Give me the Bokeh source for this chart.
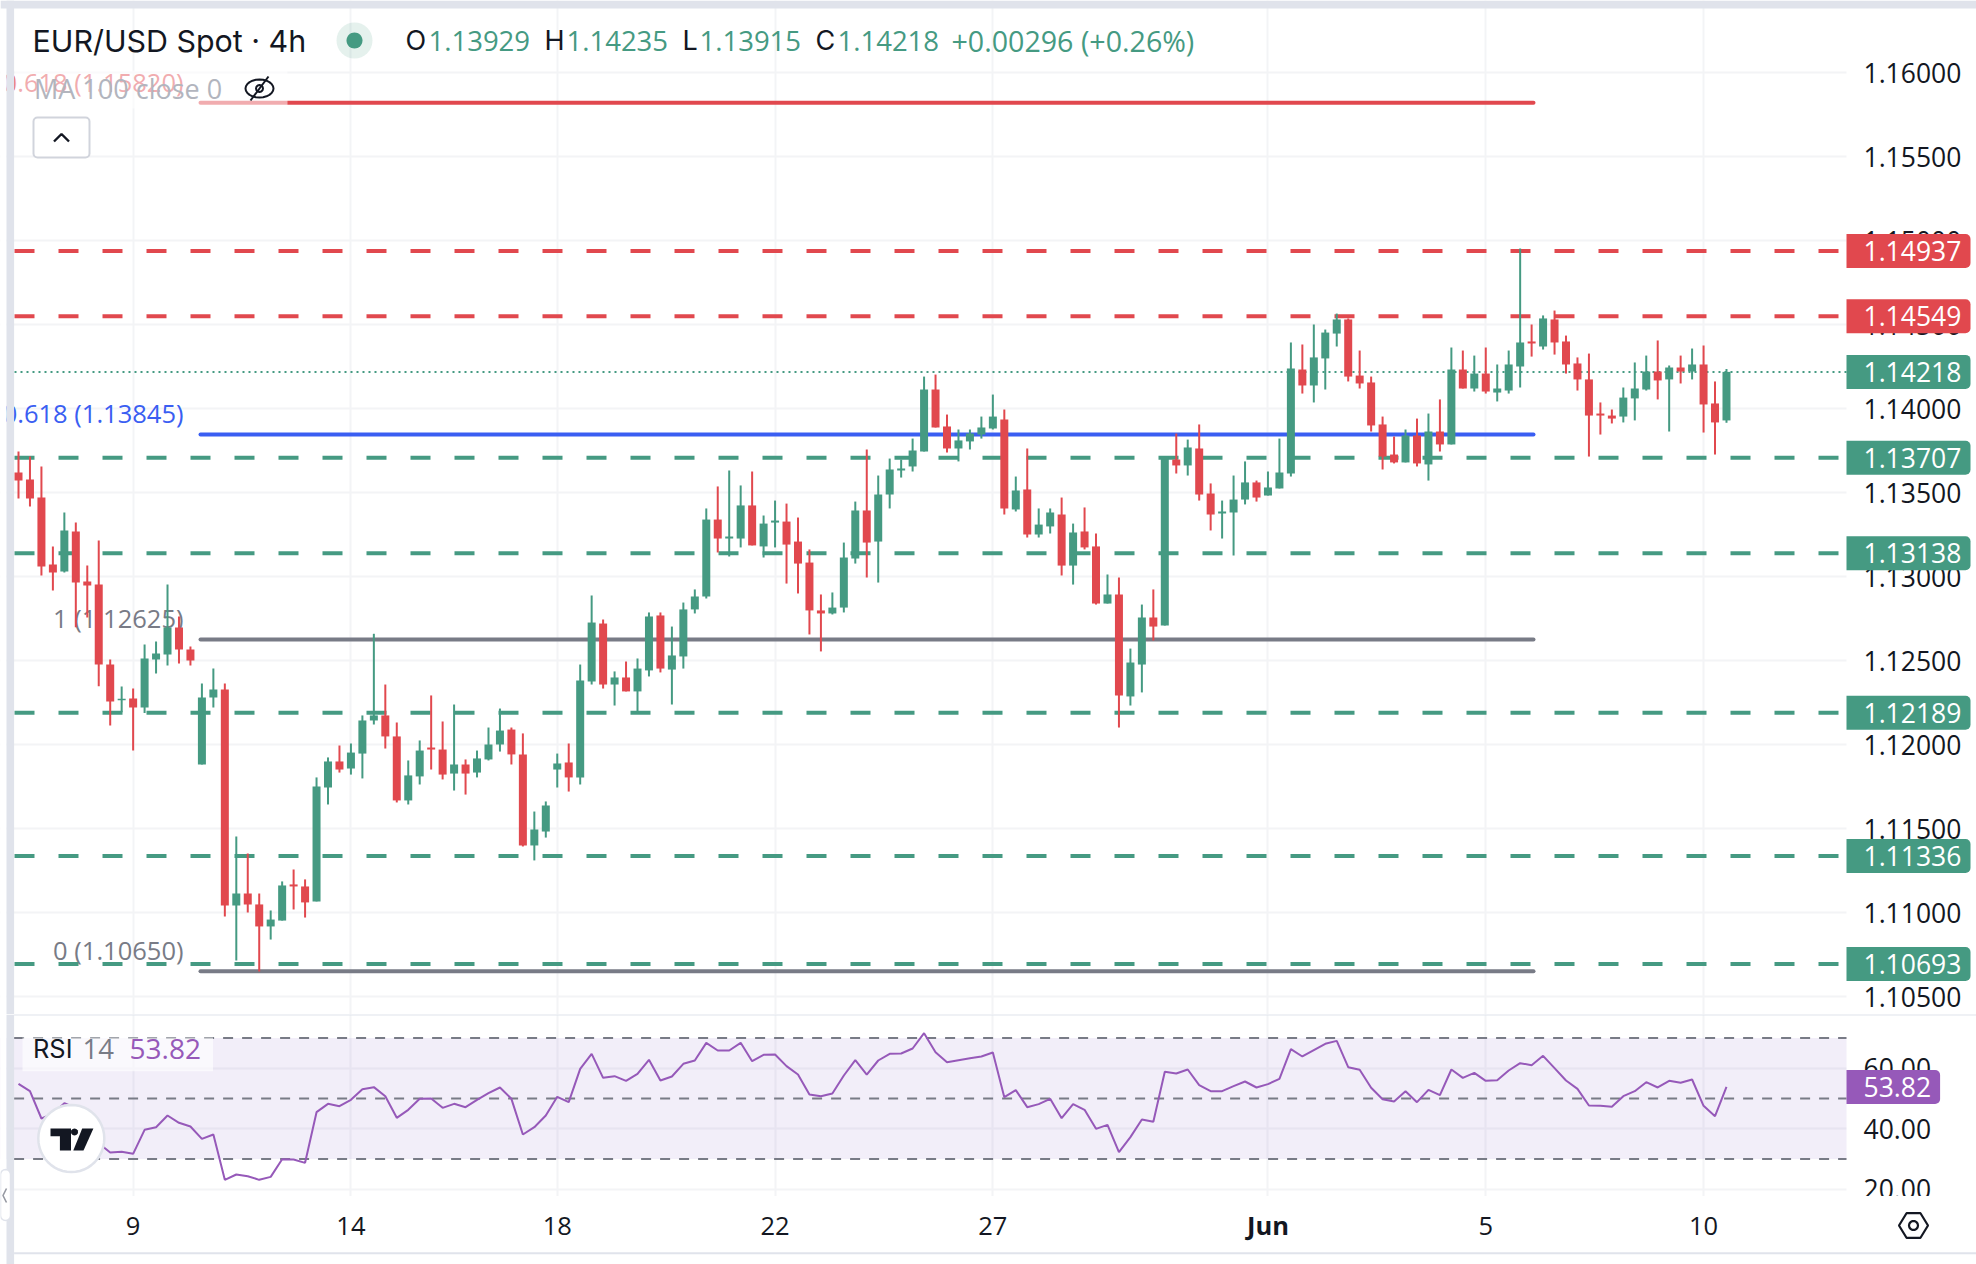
import math
from bokeh.embed import file_html
from bokeh.layouts import column
from bokeh.models import (BoxAnnotation, ColumnDataSource, FixedTicker, Grid, Label,
                          NumeralTickFormatter, PolyAnnotation, Range1d)
from bokeh.plotting import figure
from bokeh.resources import INLINE

# ---------------------------------------------------------------- data
highs = [
 1.13744,1.13714,1.13655,1.13179,1.13381,1.13321,1.13066,1.13214,1.12506,1.12345,
 1.12333,1.12595,1.12613,1.12952,1.12762,1.12583,1.12363,1.12452,1.12363,1.11452,
 1.11351,1.11113,1.11012,1.11185,1.11256,1.11197,1.11804,1.11923,1.11994,1.12006,
 1.12173,1.12659,1.12357,1.12131,1.11905,1.12024,1.12292,1.12137,1.12238,1.11911,
 1.11964,1.12101,1.12214,1.12101,1.12066,1.11601,1.11661,1.11946,1.12006,1.12476,
 1.12887,1.12744,1.12435,1.12494,1.12512,1.12786,1.12786,1.12702,1.12845,1.12923,
 1.13405,1.13536,1.13631,1.13542,1.13625,1.13363,1.13452,1.13434,1.13351,1.13161,
 1.12893,1.12905,1.13202,1.13446,1.13756,1.13601,1.13702,1.13696,1.13821,1.14190,
 1.14202,1.13964,1.13875,1.13875,1.13952,1.14083,1.13994,1.13595,1.13762,1.13405,
 1.13405,1.13470,1.13315,1.13411,1.13256,1.13012,1.12994,1.12571,1.12833,1.12923,
 1.13715,1.13851,1.13815,1.13905,1.13554,1.13452,1.13601,1.13685,1.13571,1.13625,
 1.13821,1.14393,1.14381,1.14500,1.14470,1.14565,1.14536,1.14345,1.14190,1.13952,
 1.13833,1.13875,1.13940,1.13970,1.14054,1.14363,1.14345,1.14315,1.14363,1.14262,
 1.14345,1.14952,1.14500,1.14554,1.14583,1.14434,1.14304,1.14327,1.14036,1.13994,
 1.14125,1.14274,1.14315,1.14405,1.14256,1.14315,1.14357,1.14375,1.14161,1.14235]
body_tops = [
 1.13619,1.13577,1.13470,1.13071,1.13274,1.13268,1.12970,1.12952,1.12476,1.12272,
 1.12274,1.12512,1.12542,1.12696,1.12696,1.12565,1.12280,1.12327,1.12327,1.11113,
 1.11113,1.11048,1.10958,1.11161,1.11167,1.11155,1.11750,1.11899,1.11899,1.11952,
 1.12143,1.12173,1.12173,1.12048,1.11816,1.11964,1.11982,1.11970,1.11881,1.11881,
 1.11917,1.12000,1.12083,1.12089,1.11941,1.11494,1.11637,1.11887,1.11893,1.12381,
 1.12726,1.12720,1.12399,1.12399,1.12452,1.12762,1.12768,1.12530,1.12804,1.12881,
 1.13339,1.13339,1.13238,1.13423,1.13423,1.13315,1.13333,1.13327,1.13208,1.13083,
 1.12798,1.12815,1.13113,1.13393,1.13393,1.13488,1.13637,1.13643,1.13750,1.14113,
 1.14113,1.13893,1.13810,1.13851,1.13887,1.13952,1.13935,1.13512,1.13518,1.13309,
 1.13381,1.13369,1.13262,1.13268,1.13179,1.12893,1.12893,1.12488,1.12756,1.12756,
 1.13715,1.13696,1.13768,1.13762,1.13494,1.13387,1.13458,1.13560,1.13560,1.13530,
 1.13619,1.14238,1.14232,1.14304,1.14452,1.14530,1.14530,1.14196,1.14155,1.13905,
 1.13726,1.13839,1.13839,1.13863,1.13863,1.14232,1.14232,1.14208,1.14208,1.14119,
 1.14262,1.14393,1.14399,1.14536,1.14530,1.14399,1.14268,1.14173,1.13970,1.13958,
 1.14065,1.14119,1.14220,1.14220,1.14244,1.14244,1.14262,1.14262,1.14030,1.14218]
body_bottoms = [
 1.13571,1.13464,1.13060,1.13024,1.13030,1.12964,1.12946,1.12476,1.12256,1.12264,
 1.12220,1.12220,1.12506,1.12536,1.12565,1.12500,1.11881,1.12280,1.11042,1.11042,
 1.11048,1.10917,1.10917,1.10952,1.11155,1.11060,1.11066,1.11744,1.11851,1.11857,
 1.11946,1.12143,1.12048,1.11667,1.11667,1.11810,1.11970,1.11821,1.11827,1.11827,
 1.11833,1.11911,1.12000,1.11941,1.11399,1.11399,1.11482,1.11851,1.11804,1.11804,
 1.12375,1.12357,1.12357,1.12316,1.12316,1.12441,1.12452,1.12446,1.12524,1.12804,
 1.12881,1.13226,1.13226,1.13226,1.13185,1.13179,1.13321,1.13190,1.13077,1.12798,
 1.12780,1.12780,1.12815,1.13107,1.13202,1.13208,1.13488,1.13631,1.13655,1.13744,
 1.13887,1.13762,1.13762,1.13804,1.13845,1.13881,1.13405,1.13399,1.13250,1.13250,
 1.13298,1.13065,1.13065,1.13173,1.12839,1.12839,1.12292,1.12286,1.12476,1.12702,
 1.12708,1.13661,1.13661,1.13488,1.13369,1.13375,1.13381,1.13458,1.13470,1.13482,
 1.13524,1.13613,1.14137,1.14137,1.14298,1.14446,1.14190,1.14149,1.13899,1.13714,
 1.13679,1.13679,1.13673,1.13667,1.13786,1.13786,1.14119,1.14119,1.14101,1.14095,
 1.14107,1.14250,1.14387,1.14369,1.14393,1.14262,1.14173,1.13958,1.13958,1.13940,
 1.13952,1.14060,1.14113,1.14167,1.14173,1.14220,1.14220,1.14024,1.13917,1.13929]
lows = [
 1.13464,1.13417,1.13006,1.12917,1.13024,1.12698,1.12756,1.12347,1.12113,1.12192,
 1.11964,1.12187,1.12423,1.12470,1.12482,1.12470,1.11881,1.12220,1.10976,1.10714,
 1.11000,1.10649,1.10839,1.10952,1.11018,1.10970,1.11066,1.11643,1.11833,1.11821,
 1.11798,1.12119,1.11976,1.11655,1.11643,1.11762,1.11851,1.11792,1.11726,1.11702,
 1.11804,1.11905,1.11958,1.11881,1.11393,1.11310,1.11446,1.11744,1.11720,1.11762,
 1.12357,1.12333,1.12232,1.12316,1.12191,1.12405,1.12429,1.12238,1.12452,1.12780,
 1.12869,1.13143,1.13119,1.13173,1.13185,1.13113,1.13173,1.12958,1.12899,1.12655,
 1.12554,1.12774,1.12786,1.13077,1.12994,1.12964,1.13405,1.13589,1.13625,1.13744,
 1.13887,1.13738,1.13685,1.13756,1.13821,1.13875,1.13369,1.13387,1.13232,1.13232,
 1.13256,1.13006,1.12952,1.13161,1.12833,1.12839,1.12101,1.12232,1.12310,1.12619,
 1.12708,1.13613,1.13601,1.13452,1.13274,1.13226,1.13125,1.13429,1.13446,1.13482,
 1.13524,1.13595,1.14089,1.14036,1.14113,1.14369,1.14161,1.14119,1.13863,1.13637,
 1.13673,1.13679,1.13655,1.13571,1.13744,1.13786,1.14119,1.14101,1.14089,1.14042,
 1.14089,1.14125,1.14309,1.14351,1.14321,1.14208,1.14107,1.13714,1.13845,1.13911,
 1.13917,1.13929,1.14107,1.14054,1.13863,1.14149,1.14173,1.13857,1.13726,1.13915]
directions = ("RRRRGRRRRG" "RGGGRRGGRG" "RRGGRRGGRG" "GGRRGGRRGR" "GGGRRGGGRG"
              "GRGRGGRGGG" "GRGGRGGRRR" "RGGGRGGGGG" "RRGGGGRGRG" "GRGRRGRGGR"
              "GRGRRGGGRG" "GGRGGGRRRR" "RGRGRGRGRG" "GGRGRRRRRR" "GGGRGRGRRG")
rsi_values = [
 54.85,52.42,43.39,44.93,48.46,46.91,43.83,35.23,32.15,32.37,
 31.71,39.64,40.52,44.38,41.96,40.74,36.67,38.10,23.11,24.87,
 24.32,23.11,24.10,29.94,29.83,28.73,45.48,48.24,47.47,49.56,
 53.09,53.75,50.77,43.61,46.25,49.89,50.00,46.91,48.24,47.13,
 49.56,51.76,53.64,49.89,38.10,40.52,44.38,50.55,48.79,59.81,
 64.77,56.83,57.38,55.84,58.15,62.78,55.95,57.27,61.46,62.56,
 68.40,65.87,65.87,68.40,62.34,64.44,64.55,60.69,57.93,51.32,
 50.77,51.65,57.60,62.67,57.93,62.56,64.77,64.88,66.53,71.60,
 65.32,62.01,62.67,63.33,63.89,65.21,50.44,52.76,47.13,48.13,
 49.89,43.50,48.13,46.25,39.97,41.29,32.26,37.22,43.06,42.29,
 58.82,58.27,59.59,54.41,52.42,52.42,54.08,55.62,53.64,54.74,
 56.50,66.31,63.89,65.98,68.07,69.06,60.36,59.48,53.53,49.78,
 49.01,52.42,48.79,52.87,51.10,59.59,56.83,58.49,55.84,56.06,
 59.26,61.68,61.02,64.11,60.03,55.95,53.20,47.69,47.58,47.24,
 50.77,52.42,55.40,53.64,55.84,55.18,56.28,47.58,44.16,53.82]

price_ticks = [1.105, 1.11, 1.115, 1.12, 1.125, 1.13, 1.135, 1.14, 1.145, 1.15, 1.155, 1.16]
rsi_ticks = [20, 40, 60]
rsi_levels = [70, 50, 30]
date_ticks = [10, 29, 47, 66, 85, 109, 128, 147]
date_labels = ["9", "14", "18", "22", "27", "", "5", "10"]
resistance_levels = [1.14937, 1.14549]
support_levels = [1.13707, 1.13138, 1.12189, 1.11336, 1.10693]
last_close = 1.14218
last_rsi = 53.82
fib_red = 1.15820
fib_blue = 1.13845
fib_gray = [1.12625, 1.10650]

# ---------------------------------------------------------------- style
GREEN = "#459a82"; RED = "#e1484e"; BLUE = "#3a5ef2"; GRAY = "#787b86"; PURPLE = "#9659b9"
GRID = "#f3f4f6"; FRAME = "#e0e3eb"; INK = "#131722"
FONT = "Open Sans"; TITLE_FONT = "Inter"
AXIS_PT = "26.5px"; LABEL_PT = "25.5px"; HEAD_PT = "27.5px"

# mapping from reference pixels to the chart's scales, for decoration placement only
BAR0_PX, BAR_PX = 18.0, 11.463
def xd(px): return (px - BAR0_PX) / BAR_PX
def yd(py): return 1.16 - (py - 72) / 16800
def rd(py): return 50 - (py - 1098) / 3.025

x_range = Range1d(xd(0), xd(1976))
n = len(highs)
idx = list(range(n))
colors = [GREEN if d == "G" else RED for d in directions]
src = ColumnDataSource(dict(x=idx, high=highs, low=lows, top=body_tops, bottom=body_bottoms, color=colors))

common = dict(width=1976, x_range=x_range, output_backend="svg", toolbar_location=None,
              min_border=0, outline_line_color=None, background_fill_color="white", border_fill_color="white")

def style_right(ax, ticks, fmt):
    ax.ticker = FixedTicker(ticks=ticks)
    ax.formatter = NumeralTickFormatter(format=fmt)
    ax.fixed_location = xd(1846)
    ax.axis_line_color = None
    ax.major_tick_line_color = None
    ax.minor_tick_line_color = None
    ax.major_label_standoff = 11
    ax.major_label_text_font = FONT
    ax.major_label_text_font_size = AXIS_PT
    ax.major_label_text_color = INK

def text(fig, x, y, s, color=INK, size=HEAD_PT, align="left", level="overlay", weight="normal", alpha=1.0, font=FONT):
    fig.add_layout(Label(x=x, y=y, text=s, text_color=color, text_font=font, text_font_size=size,
                         text_align=align, text_baseline="middle", level=level,
                         text_font_style=weight, text_alpha=alpha))

def tag(fig, center_y, half_h, s, color, left_px, right_px, text_px):
    fig.add_layout(BoxAnnotation(left=xd(left_px), right=xd(right_px), top=center_y + half_h, bottom=center_y - half_h,
                                 fill_color=color, fill_alpha=1, line_alpha=0,
                                 border_radius=dict(top_left=0, top_right=5, bottom_right=5, bottom_left=0),
                                 level="overlay"))
    text(fig, xd(text_px), center_y, s, color="white", size=AXIS_PT)

def poly(fig, xs, ys, yfun, fill=None, fill_alpha=1.0, line=None, lw=2.0, level="overlay"):
    fig.add_layout(PolyAnnotation(xs=[xd(v) for v in xs], ys=[yfun(v) for v in ys],
                                  fill_color=fill or "white", fill_alpha=fill_alpha if fill else 0,
                                  line_color=line or "white", line_alpha=1 if line else 0, line_width=lw, level=level))

def ring(cx, cy, rx, ry, m=32):
    return ([cx + rx * math.cos(t / m * 2 * math.pi) for t in range(m)],
            [cy + ry * math.sin(t / m * 2 * math.pi) for t in range(m)])

def rect(fig, l, r, top, bottom, color, alpha=1.0, level="overlay", **kw):
    fig.add_layout(BoxAnnotation(left=xd(l), right=xd(r), top=top, bottom=bottom, fill_color=color, fill_alpha=alpha,
                                 line_alpha=kw.pop("line_alpha", 0), level=level, **kw))

# ---------------------------------------------------------------- price pane
p = figure(height=1014, y_range=Range1d(yd(1014), yd(0)), x_axis_location=None, y_axis_location="right", **common)
style_right(p.yaxis[0], price_ticks, "0.00000")
p.xgrid.visible = False
p.ygrid.visible = False
p.add_layout(Grid(dimension=0, ticker=FixedTicker(ticks=date_ticks), grid_line_color=GRID, grid_line_width=2))
p.add_layout(Grid(dimension=1, ticker=FixedTicker(ticks=price_ticks), grid_line_color=GRID, grid_line_width=2))
rect(p, 1846, 1976, yd(0), yd(1014), "white", level="underlay")

start, stop = xd(14), xd(1846)
for lv in resistance_levels:
    p.line([start, stop], [lv, lv], line_color=RED, line_width=4, line_dash=[20, 24])
for lv in support_levels:
    p.line([start, stop], [lv, lv], line_color=GREEN, line_width=4, line_dash=[20, 24])
p.line([start, stop], [last_close, last_close], line_color=GREEN, line_width=2, line_dash=[2, 4])

fib_l, fib_r = xd(200), xd(1533)
p.line([fib_l, fib_r], [fib_red, fib_red], line_color=RED, line_width=4, line_cap="round")
p.line([fib_l, fib_r], [fib_blue, fib_blue], line_color=BLUE, line_width=4, line_cap="round")
for lv in fib_gray:
    p.line([fib_l, fib_r], [lv, lv], line_color=GRAY, line_width=4, line_cap="round")

text(p, xd(183), yd(81), "0.618 (1.15820)", color=RED, size=LABEL_PT, align="right", level="underlay")
text(p, xd(183), yd(412.5), "0.618 (1.13845)", color=BLUE, size=LABEL_PT, align="right", level="underlay")
text(p, xd(183), yd(617.5), "1 (1.12625)", color=GRAY, size=LABEL_PT, align="right", level="underlay")
text(p, xd(183), yd(949.5), "0 (1.10650)", color=GRAY, size=LABEL_PT, align="right", level="underlay")

p.segment("x", "high", "x", "low", source=src, line_color="color", line_width=2)
p.vbar("x", width=8 / BAR_PX, top="top", bottom="bottom", source=src, fill_color="color", line_color=None)

# faded legend strip
rect(p, 14, 287, yd(70), yd(108), "white", alpha=0.55, level="annotation")
text(p, xd(33.5), yd(88), "MA 100 close 0", color="#b2b5be", size="27px")
# crossed eye
ex = [259 + 14 * math.cos(t / 24 * 2 * math.pi) for t in range(24)]
ey = [88 + 9 * math.sin(t / 24 * 2 * math.pi) for t in range(24)]
poly(p, ex, ey, yd, line=INK)
poly(p, *ring(259, 88, 3.5, 3.5, 12), yd, line=INK)
poly(p, [250, 268], [100, 76], yd, line=INK)

# collapse button
rect(p, 33, 89, yd(117), yd(157), "white", line_alpha=1, line_color="#d1d4dc", line_width=2, border_radius=4)
poly(p, [53.5, 61, 68.5, 61], [141, 133.5, 141, 133.5], yd, line=INK, lw=2.4)

# header
text(p, xd(32), yd(40), "EUR/USD Spot · 4h", size="30.4px", font=TITLE_FONT)
poly(p, *ring(354, 40, 18, 18), yd, fill=GREEN, fill_alpha=0.14)
poly(p, *ring(354, 40, 8, 8), yd, fill=GREEN)
text(p, xd(405), yd(40), "O", font=TITLE_FONT, size="27px")
text(p, xd(428), yd(40), "1.13929", color=GREEN)
text(p, xd(544), yd(40), "H", font=TITLE_FONT, size="27px")
text(p, xd(566), yd(40), "1.14235", color=GREEN)
text(p, xd(682), yd(40), "L", font=TITLE_FONT, size="27px")
text(p, xd(699), yd(40), "1.13915", color=GREEN)
text(p, xd(815), yd(40), "C", font=TITLE_FONT, size="27px")
text(p, xd(837), yd(40), "1.14218", color=GREEN)
text(p, xd(951), yd(40), "+0.00296 (+0.26%)", color=GREEN, size="28.6px")

# last-value tags
half = 17 / 16800
for lv in resistance_levels:
    tag(p, lv, half, f"{lv:.5f}", RED, 1846, 1970, 1863)
tag(p, last_close, half, f"{last_close:.5f}", GREEN, 1846, 1970, 1863)
for lv in support_levels:
    tag(p, lv, half, f"{lv:.5f}", GREEN, 1846, 1970, 1863)

# window frame
rect(p, 0, 6, yd(0), yd(1014), "white")
rect(p, 6, 13.6, yd(0), yd(1014), FRAME)
rect(p, 0, 1976, yd(0), yd(8), FRAME)

# ---------------------------------------------------------------- RSI pane
q = figure(height=250, y_range=Range1d(rd(1264), rd(1014)), x_axis_location="below", y_axis_location="right", **common)
style_right(q.yaxis[0], rsi_ticks, "0.00")
xa = q.xaxis[0]
xa.ticker = FixedTicker(ticks=date_ticks)
xa.major_label_overrides = dict(zip(date_ticks, date_labels))
xa.fixed_location = rd(1195.6)
xa.axis_line_color = None
xa.major_tick_line_color = None
xa.minor_tick_line_color = None
xa.major_label_standoff = 15
xa.major_label_text_font = FONT
xa.major_label_text_font_size = LABEL_PT
xa.major_label_text_color = INK
q.xgrid.visible = False
q.ygrid.visible = False

q.add_layout(Grid(dimension=0, ticker=FixedTicker(ticks=date_ticks), grid_line_color=GRID, grid_line_width=2))
q.add_layout(Grid(dimension=1, ticker=FixedTicker(ticks=rsi_ticks), grid_line_color=GRID, grid_line_width=2))
rect(q, 1846, 1976, rd(1014), rd(1264), "white", level="underlay")
rect(q, 0, 1976, rd(1195.6), rd(1264), "white", level="underlay")
rect(q, 0, 1846, rsi_levels[0], rsi_levels[2], "#7e57c2", alpha=0.1, level="underlay")

x_l, x_r = xd(13.6), xd(1846)
for lv in rsi_levels:
    q.line([x_l, x_r], [lv, lv], line_color=GRAY, line_width=2, line_dash=[10, 9])
q.line(idx, rsi_values, line_color=PURPLE, line_width=2)

rect(q, 22, 212.5, rd(1037), rd(1070.7), "white", alpha=0.62, level="annotation")
text(q, xd(32.5), rd(1048), "RSI", font=TITLE_FONT, size="25.4px")
text(q, xd(82), rd(1048), "14", color=GRAY)
text(q, xd(129), rd(1048), "53.82", color=PURPLE, size="28px")

# date that is set in bold
text(q, date_ticks[5], rd(1224), "Jun", align="center", size=LABEL_PT, weight="bold")

# logo
poly(q, *ring(70.8, 1138, 33, 33.6, 48), rd, fill="white", line=FRAME, lw=2.5, level="annotation")
poly(q, [50, 70.5, 70.5, 59.4, 59.4, 50], [1128, 1128, 1150, 1150, 1135.7, 1135.7], rd, fill=INK)
poly(q, [81.7, 92.9, 83, 72.8], [1128, 1128, 1150, 1150], rd, fill=INK)
poly(q, *ring(74, 1131.5, 3.6, 3.6, 12), rd, fill=INK)

# mask that trims the lowest axis label, then the RSI tag
rect(q, 1848, 1976, rd(1195.6), rd(1212), "white")
tag(q, last_rsi, 17 / 3.025, f"{last_rsi:.2f}", PURPLE, 1846, 1939.6, 1863)

# settings hexagon
poly(q, [1898.5, 1906, 1920, 1927.5, 1920, 1906], [1225, 1212.7, 1212.7, 1225, 1237.3, 1237.3], rd, line=INK, lw=2.2)
poly(q, *ring(1913, 1225, 4.5, 4.5, 14), rd, line=INK, lw=2.2)

# pane separators and frame
rect(q, 13.6, 1976, rd(1013), rd(1015), FRAME)
rect(q, 13.6, 1976, rd(1251.7), rd(1253.7), FRAME)
rect(q, 0, 6, rd(1014), rd(1264), "white")
rect(q, 6, 13.6, rd(1014), rd(1264), FRAME)
# side handle
rect(q, 0, 10, rd(1169), rd(1220), "white", line_alpha=1, line_color=FRAME, line_width=1.5, border_radius=5)
poly(q, [6, 2.5, 6, 2.5], [1188, 1195, 1202, 1195], rd, line="#9598a1", lw=1.6)

page = column(p, q, spacing=0)
open("out.html", "w").write(file_html(page, INLINE))
